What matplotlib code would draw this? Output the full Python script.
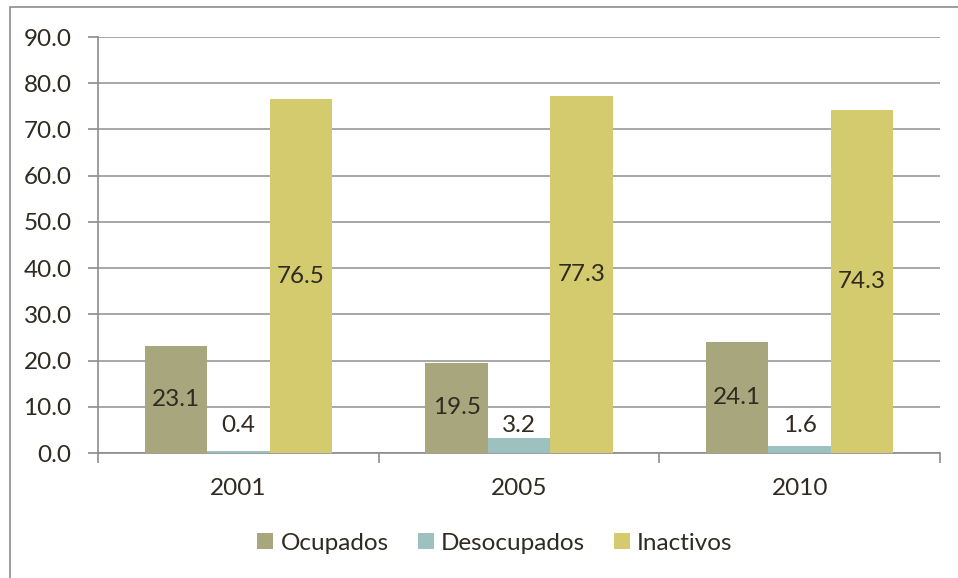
import matplotlib
matplotlib.use("Agg")
import matplotlib.pyplot as plt
import numpy as np
from matplotlib.patches import Rectangle

years = ["2001", "2005", "2010"]
ocupados = [23.1, 19.5, 24.1]
desocupados = [0.4, 3.2, 1.6]
inactivos = [76.5, 77.3, 74.3]
series_names = ["Ocupados", "Desocupados", "Inactivos"]
colors = ["#A8A67C", "#9DC1BF", "#D3CB6D"]
text_color = "#2F2A22"

plt.rcParams['font.family'] = ['Lato', 'DejaVu Sans']

W, H = 958, 578
fs = 17.5
fig = plt.figure(figsize=(W / 100, H / 100), dpi=100)
fig.patch.set_facecolor("white")

# outer frame (right and bottom edges fall outside the image)
fig.add_artist(Rectangle((10 / W, -0.05), 1.2, 1.05 - 7 / H, transform=fig.transFigure,
                         fill=False, edgecolor="#8C8C8C", linewidth=1.2))

ax = fig.add_axes([98 / W, 1 - 453 / H, (940 - 98) / W, (453 - 37) / H])

x = np.arange(len(years))
bw = 1 / 4.5
data = [ocupados, desocupados, inactivos]
for i, (vals, c, name) in enumerate(zip(data, colors, series_names)):
    pos = x + (i - 1) * bw
    ax.bar(pos, vals, width=bw, color=c, label=name, zorder=3)
    for p, v in zip(pos, vals):
        ypos = v / 2 if v > 10 else 6.0
        ax.text(p, ypos, f"{v:.1f}", ha="center", va="center", fontsize=fs,
                color=text_color, zorder=4)

ax.set_xlim(-0.5, 2.5)
ax.set_ylim(0, 90)
ax.set_yticks(np.arange(0, 91, 10))
ax.set_yticklabels([f"{v:.1f}" for v in np.arange(0, 91, 10)], fontsize=fs, color=text_color)
ax.set_xticks(x)
ax.set_xticklabels(years, fontsize=fs, color=text_color)
ax.tick_params(axis="x", length=0, pad=18)
ax.tick_params(axis="y", length=7, color="#8C8C8C", width=1.2, pad=12)
ax.set_xticks([-0.5, 0.5, 1.5, 2.5], minor=True)
ax.tick_params(axis="x", which="minor", length=7, color="#8C8C8C", width=1.2)

ax.grid(axis="y", color="#A0A0A0", linewidth=1.3, zorder=0)
for s in ["top", "right"]:
    ax.spines[s].set_visible(False)
ax.spines["left"].set_color("#8C8C8C")
ax.spines["bottom"].set_color("#8C8C8C")
ax.spines["left"].set_linewidth(1.2)
ax.spines["bottom"].set_linewidth(1.2)
ax.set_axisbelow(True)

leg = fig.legend(loc="center", bbox_to_anchor=(495 / W, 1 - 543 / H), ncol=3,
                 frameon=False, fontsize=fs, handlelength=0.65, handleheight=0.65,
                 handletextpad=0.3, columnspacing=1.2)
for t in leg.get_texts():
    t.set_color(text_color)

fig.savefig("out.png", dpi=100, facecolor="white")
